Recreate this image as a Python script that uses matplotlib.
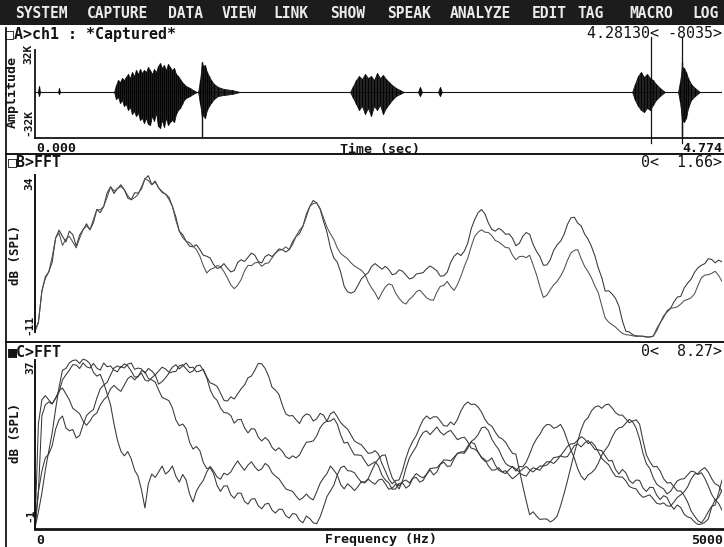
import numpy as np
import matplotlib
matplotlib.use("Agg")
import matplotlib.pyplot as plt
from matplotlib.lines import Line2D
from matplotlib.patches import Rectangle

# ---------------- data ----------------
menu_items = ["SYSTEM", "CAPTURE", "DATA", "VIEW", "LINK", "SHOW",
              "SPEAK", "ANALYZE", "EDIT", "TAG", "MACRO", "LOG"]

duration = 4.774          # seconds in the capture window
cursor_times = [4.2813, 4.496]

# speech bursts: time (s), upper / lower envelope (sample counts)
burst_t = [0.020, 0.028, 0.035, 0.160, 0.167, 0.174,
           0.549, 0.563, 0.577, 0.591, 0.605, 0.618, 0.632, 0.646, 0.660, 0.674,
           0.688, 0.702, 0.716, 0.730, 0.743, 0.757, 0.771, 0.785, 0.799, 0.813,
           0.827, 0.841, 0.855, 0.869, 0.882, 0.896, 0.910, 0.924, 0.938, 0.952,
           0.966, 0.980, 0.994, 1.008, 1.022, 1.035, 1.049, 1.063, 1.077, 1.098, 1.126,
           1.133, 1.147, 1.160, 1.167, 1.181, 1.195, 1.209, 1.223, 1.244, 1.272,
           1.313, 1.369, 1.425,
           2.189, 2.210, 2.231, 2.251, 2.272, 2.293, 2.314, 2.335, 2.356, 2.377,
           2.397, 2.418, 2.439, 2.460, 2.481, 2.509, 2.536, 2.564,
           2.660, 2.675, 2.690, 2.800, 2.814, 2.828,
           4.149, 4.169, 4.190, 4.211, 4.232, 4.253, 4.274, 4.294, 4.315, 4.343, 4.378,
           4.468, 4.482, 4.496, 4.510, 4.524, 4.538, 4.559, 4.586, 4.621]
burst_hi = [0, 4300, 0, 0, 2800, 0,
            0, 4984, 8544, 7120, 9968, 8544, 10680, 12816, 9968, 14240,
            11392, 15664, 12816, 16376, 13528, 15664, 14240, 17800, 15664, 12816,
            16376, 14240, 18512, 20648, 17088, 19224, 15664, 19936, 17800, 15664,
            17088, 12816, 11392, 9256, 7120, 5696, 4272, 3560, 2848, 1424, 0,
            0, 8544, 21360, 18512, 19224, 14240, 11392, 8544, 5696, 3560,
            2136, 1424, 0,
            0, 4272, 8544, 11392, 9256, 12816, 9968, 11392, 8544, 13528,
            9968, 12104, 9256, 7120, 4984, 2848, 1424, 0,
            0, 3560, 0, 0, 3560, 0,
            0, 5696, 11392, 14240, 10680, 12816, 9968, 8544, 5696, 2848, 0,
            0, 7120, 18000, 17088, 14240, 9968, 5696, 2848, 0]
burst_lo = [0, -2800, 0, 0, -1400, 0,
            0, -4984, -3560, -7832, -5696, -9968, -8544, -12816, -10680, -15664,
            -13528, -17088, -14952, -19936, -18512, -22072, -18512, -22784, -23496, -17088,
            -20648, -14952, -24208, -25632, -19936, -24920, -18512, -23496, -21360, -19936,
            -21360, -15664, -12816, -11392, -8544, -5696, -4272, -3560, -2848, -1424, 0,
            0, -8544, -18000, -16376, -18512, -12816, -9968, -7832, -4984, -2848,
            -2136, -1424, 0,
            0, -4272, -8544, -12816, -9968, -15664, -11392, -17088, -9968, -12816,
            -9256, -15664, -11392, -8544, -5696, -2848, -1424, 0,
            0, -2848, 0, 0, -2848, 0,
            0, -5696, -9968, -12816, -14240, -11392, -12816, -9256, -5696, -2848, 0,
            0, -7120, -20000, -21360, -18512, -11392, -5696, -2848, 0]

# isolated clicks
spike_t = [1.160, 4.496]
spike_hi = [21360, 21360]
spike_lo = [-32768, -31300]

# FFT frequency grid (Hz)
freq = np.arange(0, 5001, 25)

# window B: two spectra (dB SPL)
fft_b1 = [-10.8, -8.0, 0.7, 4.8, 6.2, 9.0, 15.9, 18.2, 16.4, 14.8,
          17.9, 16.9, 13.6, 16.8, 18.3, 20.0, 18.3, 20.3, 24.1, 23.2,
          25.0, 28.9, 30.6, 28.7, 30.1, 31.2, 29.8, 27.4, 26.9, 28.9,
          28.8, 30.0, 32.9, 33.8, 31.2, 32.0, 30.3, 29.0, 28.5, 27.6,
          25.0, 22.0, 17.9, 16.9, 15.0, 13.6, 13.4, 14.0, 12.6, 11.0,
          10.7, 10.2, 8.3, 7.2, 7.5, 8.6, 7.3, 6.2, 6.6, 8.9,
          9.7, 9.2, 10.4, 11.6, 11.0, 9.2, 8.8, 10.6, 11.2, 10.6,
          11.6, 12.8, 12.6, 11.9, 12.6, 14.9, 16.4, 17.2, 19.3, 22.8,
          25.0, 26.7, 26.0, 24.2, 20.7, 17.6, 13.1, 10.2, 9.0, 6.1,
          2.1, 0.5, 0.1, 0.6, 2.3, 4.2, 5.2, 6.0, 7.8, 8.6,
          7.8, 7.0, 7.8, 6.9, 5.4, 5.7, 6.8, 6.4, 5.3, 4.2,
          4.5, 5.6, 5.8, 6.0, 7.1, 7.9, 7.3, 6.5, 5.0, 5.1,
          6.1, 8.9, 10.7, 11.6, 10.9, 12.2, 14.5, 18.6, 21.2, 23.2,
          24.1, 22.8, 20.2, 18.4, 17.9, 18.7, 18.1, 17.0, 17.1, 15.9,
          13.7, 14.4, 16.4, 17.5, 17.0, 14.1, 12.1, 10.6, 8.1, 8.2,
          9.7, 12.4, 14.0, 15.0, 16.9, 19.8, 21.7, 21.9, 20.2, 19.4,
          17.1, 15.6, 13.5, 10.8, 7.3, 4.6, 0.7, 0.8, -0.1, -1.4,
          -3.6, -7.8, -10.8, -11.0, -11.8, -12.1, -12.2, -12.2, -12.4, -12.5,
          -12.2, -10.6, -8.4, -6.4, -5.3, -4.3, -2.4, -1.0, -0.8, 1.6,
          3.0, 4.1, 6.1, 7.4, 8.1, 8.6, 10.0, 9.8, 8.8, 9.6,
          9.1]
fft_b2 = [-10.8, -8.4, 0.7, 4.3, 6.2, 10.5, 15.9, 17.4, 13.8, 15.6,
          16.4, 14.8, 13.1, 15.9, 18.3, 19.4, 18.3, 21.2, 24.1, 24.0,
          25.0, 27.6, 30.6, 29.4, 30.1, 30.7, 29.8, 28.1, 26.9, 27.5,
          28.4, 30.6, 32.9, 32.4, 31.2, 32.3, 30.3, 29.3, 28.5, 27.0,
          25.0, 21.0, 17.9, 16.0, 15.0, 14.6, 13.6, 12.6, 10.7, 8.0,
          5.9, 6.9, 7.3, 8.0, 7.8, 6.3, 4.5, 2.5, 1.4, 2.4,
          4.0, 6.5, 8.1, 8.0, 8.8, 9.0, 7.8, 8.6, 8.8, 10.2,
          11.6, 12.4, 12.6, 13.4, 12.6, 14.1, 16.4, 18.2, 19.3, 22.0,
          25.0, 25.8, 26.0, 24.4, 21.7, 19.0, 17.1, 15.5, 13.1, 11.5,
          10.7, 10.0, 8.8, 7.9, 7.3, 6.7, 5.6, 3.3, 1.6, 0.2,
          -1.7, 0.3, 1.9, 2.8, 2.4, 0.1, -1.4, -2.5, -3.0, -1.6,
          -0.8, 0.5, 1.0, -0.1, -1.2, -1.8, -1.9, 0.4, 2.1, 2.3,
          3.5, 2.0, 0.9, 2.6, 5.0, 7.8, 10.2, 13.5, 16.4, 17.6,
          18.3, 17.6, 17.5, 16.6, 15.2, 14.8, 14.0, 13.2, 13.1, 11.0,
          9.7, 10.6, 10.7, 10.3, 11.0, 8.2, 5.4, 1.9, -1.1, -0.5,
          1.1, 2.5, 3.5, 5.0, 6.9, 9.5, 11.6, 12.4, 12.6, 10.0,
          7.8, 6.3, 4.5, 2.2, 0.2, -3.5, -7.0, -8.2, -8.9, -9.6,
          -10.6, -11.4, -11.8, -11.9, -12.1, -12.3, -12.2, -12.3, -12.5, -12.4,
          -12.2, -10.0, -8.4, -6.9, -4.9, -4.2, -4.1, -3.8, -3.0, -2.0,
          -1.7, -1.2, -0.1, 2.3, 4.5, 5.3, 5.4, 5.8, 6.4, 5.2,
          3.5]

# window C: four spectra (dB SPL)
fft_c1 = [-2.6, 1.2, 5.6, 11.0, 15.5, 19.8, 25.4, 30.6, 34.6, 35.0,
          36.3, 36.9, 37.0, 36.2, 37.2, 36.9, 36.1, 34.1, 33.2, 33.6,
          31.6, 29.0, 26.4, 21.9, 18.1, 15.5, 14.4, 15.4, 13.7, 11.0,
          9.6, 6.4, 2.1, 7.8, 10.1, 9.3, 10.6, 12.0, 10.1, 10.8,
          12.0, 9.6, 8.2, 10.0, 8.7, 5.4, 3.5, 6.1, 7.5, 8.6,
          10.6, 11.9, 10.8, 9.4, 8.9, 10.3, 9.9, 10.6, 12.0, 13.2,
          12.0, 11.0, 12.2, 13.0, 11.8, 10.9, 11.3, 12.6, 12.0, 10.4,
          9.6, 9.0, 7.8, 6.6, 6.3, 6.0, 4.9, 4.0, 4.5, 5.4,
          4.5, 4.0, 5.9, 7.9, 9.2, 10.2, 12.0, 11.0, 9.9, 7.6,
          6.6, 7.8, 7.1, 6.2, 7.1, 8.3, 8.2, 9.0, 10.8, 12.6,
          13.7, 14.5, 14.6, 11.6, 9.2, 8.0, 7.3, 8.3, 8.7, 8.0,
          9.2, 10.2, 9.6, 9.2, 10.1, 11.4, 11.5, 11.6, 12.5, 13.4,
          13.4, 13.2, 14.1, 15.0, 15.1, 15.0, 16.2, 17.8, 18.4, 19.4,
          21.0, 21.2, 20.3, 18.3, 17.0, 15.9, 14.1, 12.6, 12.0, 11.8,
          10.8, 11.9, 11.8, 12.9, 14.8, 16.9, 18.4, 19.5, 21.0, 21.8,
          21.7, 20.9, 21.2, 21.8, 20.3, 18.0, 15.8, 13.9, 11.3, 9.6,
          8.7, 9.9, 10.4, 11.2, 12.7, 14.6, 15.8, 16.9, 18.8, 20.3,
          21.0, 21.2, 22.1, 23.0, 22.4, 20.9, 18.4, 15.0, 12.5, 11.4,
          9.2, 7.7, 7.1, 6.6, 5.4, 6.0, 7.3, 8.5, 8.9, 9.0,
          9.9, 10.8, 10.6, 10.0, 10.4, 9.1, 7.3, 5.3, 4.0, 3.2,
          1.6]
fft_c2 = [-2.6, 6.0, 10.8, 13.9, 14.8, 16.8, 20.7, 22.9, 23.8, 21.0,
          20.3, 20.6, 18.6, 19.2, 21.7, 23.9, 24.7, 25.3, 28.0, 30.2,
          31.1, 31.7, 33.5, 35.1, 35.6, 35.2, 36.1, 35.6, 34.4, 33.0,
          33.0, 34.5, 34.2, 32.6, 32.3, 31.8, 29.9, 28.2, 27.8, 27.4,
          25.7, 22.9, 21.5, 21.9, 20.8, 17.6, 16.0, 16.6, 15.6, 12.8,
          11.4, 11.6, 10.2, 7.4, 6.0, 7.3, 7.3, 5.2, 4.4, 5.6,
          5.6, 3.6, 3.0, 4.2, 4.3, 2.6, 1.9, 3.0, 3.2, 1.6,
          0.9, 1.8, 1.8, 0.3, -0.3, 0.8, 0.6, -0.8, -1.4, 0.2,
          -0.4, -1.4, -1.6, 0.0, 2.3, 4.8, 6.1, 7.5, 9.9, 11.6,
          12.0, 10.9, 10.8, 10.4, 9.2, 8.2, 8.0, 8.9, 8.2, 7.7,
          8.7, 8.9, 7.8, 6.5, 6.8, 7.7, 6.6, 8.5, 11.5, 13.9,
          15.3, 16.6, 18.6, 19.9, 20.3, 19.4, 20.3, 21.2, 20.0, 19.3,
          20.0, 20.4, 19.3, 18.2, 18.6, 18.8, 17.7, 16.2, 16.0, 15.3,
          13.9, 13.1, 13.2, 13.9, 12.2, 11.0, 10.6, 10.9, 9.9, 9.0,
          9.6, 10.4, 9.9, 9.6, 10.8, 11.6, 11.3, 11.0, 12.2, 13.0,
          13.0, 12.6, 13.4, 14.4, 14.1, 14.2, 15.5, 16.8, 17.2, 16.5,
          17.4, 18.0, 17.0, 15.9, 15.8, 15.6, 14.4, 13.2, 13.3, 11.2,
          10.1, 11.2, 10.4, 8.6, 7.9, 8.7, 8.6, 6.8, 6.0, 7.0,
          6.9, 5.1, 4.1, 5.0, 4.6, 2.9, 1.8, 2.8, 2.2, 0.6,
          0.0, -0.3, -1.2, -1.8, -1.7, -1.3, -0.5, 2.3, 4.0, 4.6,
          6.3]
fft_c3 = [-2.6, 6.0, 23.8, 26.4, 27.1, 26.6, 28.0, 29.8, 30.4, 29.0,
          27.6, 25.6, 25.0, 24.3, 22.6, 21.6, 22.6, 23.9, 24.5, 26.4,
          27.6, 28.4, 30.2, 31.0, 30.2, 29.6, 31.1, 32.6, 33.2, 32.3,
          33.2, 33.9, 32.3, 32.0, 32.8, 33.5, 31.3, 31.9, 32.8, 33.9,
          34.2, 34.3, 35.6, 35.9, 34.9, 34.0, 34.4, 35.6, 35.8, 34.6,
          32.8, 30.0, 28.3, 27.5, 25.7, 24.6, 24.5, 23.9, 22.1, 22.9,
          23.0, 21.0, 19.8, 20.8, 20.7, 18.8, 17.9, 18.7, 18.0, 16.4,
          15.6, 16.3, 15.5, 14.2, 13.7, 14.4, 13.9, 14.6, 16.2, 17.6,
          17.7, 17.9, 19.1, 21.0, 22.1, 22.6, 24.3, 24.8, 23.6, 22.2,
          21.4, 20.7, 19.3, 17.9, 17.4, 17.0, 16.0, 15.0, 15.1, 15.6,
          14.8, 12.6, 10.8, 8.9, 7.8, 8.6, 8.7, 11.0, 13.9, 16.2,
          17.9, 19.2, 21.2, 22.9, 23.8, 23.1, 23.6, 23.6, 22.6, 21.5,
          21.4, 22.4, 21.7, 23.0, 25.0, 26.4, 27.1, 26.5, 26.6, 25.9,
          24.7, 23.0, 21.9, 21.4, 20.0, 18.8, 18.4, 17.6, 16.2, 15.0,
          14.8, 11.0, 7.3, 3.8, 0.5, 1.2, 0.2, -0.6, -0.5, -0.5,
          -1.2, -0.7, 0.2, 2.6, 5.4, 8.5, 11.8, 15.0, 17.9, 20.6,
          22.6, 23.4, 25.0, 25.9, 26.2, 25.6, 26.4, 26.6, 25.7, 24.6,
          24.0, 24.0, 23.1, 22.2, 22.6, 22.9, 21.9, 18.0, 14.6, 13.0,
          11.8, 11.9, 10.8, 9.0, 8.0, 8.1, 7.1, 6.1, 6.1, 5.0,
          3.5, 1.4, 0.2, -0.9, -1.4, -0.3, 1.2, 2.5, 2.8, 5.6,
          8.7]
fft_c4 = [-2.6, 22.0, 27.6, 28.6, 27.6, 26.7, 28.0, 29.4, 32.3, 33.5,
          34.6, 35.9, 35.8, 35.0, 36.3, 35.4, 35.1, 36.2, 35.1, 34.6,
          36.3, 35.4, 35.6, 34.6, 34.2, 35.5, 35.1, 36.0, 36.3, 34.8,
          35.1, 34.9, 33.9, 35.0, 34.4, 33.5, 34.4, 35.3, 34.9, 34.1,
          35.3, 35.9, 34.9, 35.6, 36.3, 35.2, 35.3, 34.2, 34.4, 34.8,
          33.0, 31.6, 31.3, 30.8, 29.2, 27.5, 27.3, 28.3, 27.8, 29.0,
          30.2, 31.1, 32.8, 33.2, 34.6, 36.2, 36.1, 35.0, 33.2, 30.6,
          29.9, 28.9, 26.4, 24.3, 23.8, 23.9, 22.9, 22.0, 23.6, 24.3,
          24.0, 22.6, 23.1, 24.4, 24.0, 22.5, 22.6, 23.2, 21.9, 19.3,
          17.4, 17.6, 16.0, 14.6, 14.6, 14.5, 13.2, 12.0, 12.5, 13.0,
          12.0, 9.8, 8.7, 8.0, 6.5, 6.6, 7.9, 8.0, 6.8, 7.4,
          9.1, 9.3, 8.2, 8.6, 10.0, 11.1, 9.9, 10.6, 12.4, 12.9,
          11.9, 12.0, 13.7, 15.0, 15.3, 15.4, 16.7, 17.6, 17.2, 15.2,
          14.1, 13.5, 12.0, 11.0, 11.1, 11.6, 10.6, 10.2, 11.1, 11.9,
          11.3, 10.6, 11.3, 11.9, 11.1, 10.6, 11.3, 12.0, 12.0, 12.2,
          13.0, 14.0, 14.1, 14.4, 15.5, 16.6, 17.2, 17.3, 18.1, 18.9,
          18.4, 17.3, 17.7, 16.8, 15.3, 13.8, 13.0, 12.3, 10.8, 9.6,
          9.4, 9.4, 8.5, 7.2, 6.8, 6.6, 5.4, 4.6, 4.9, 5.2,
          4.2, 3.2, 3.0, 3.3, 2.6, 2.5, 3.5, 4.6, 5.2, 5.9,
          7.1, 8.9, 10.1, 10.2, 11.1, 11.6, 10.6, 9.0, 7.8, 7.4,
          5.9]

# ---------------- figure ----------------
W, H = 724, 547
fig = plt.figure(figsize=(W / 100, H / 100), dpi=100)
fig.patch.set_facecolor("white")

INK = "#141414"
TRACE = "#363636"
MONO = ["DejaVu Sans Mono"]


def fx(x):
    return x / W


def fy(y):
    return 1 - y / H


def axes_px(x0, y0, x1, y1):
    ax = fig.add_axes([fx(x0), fy(y1), fx(x1) - fx(x0), fy(y0) - fy(y1)])
    ax.set_axis_off()
    return ax


def hline(y, x0, x1, lw=1.2, color=INK):
    fig.add_artist(Line2D([fx(x0), fx(x1)], [fy(y), fy(y)], lw=lw, color=color,
                          transform=fig.transFigure))


def vline(x, y0, y1, lw=1.2, color=INK):
    fig.add_artist(Line2D([fx(x), fx(x)], [fy(y0), fy(y1)], lw=lw, color=color,
                          transform=fig.transFigure))


def text(x, y, s, size=10.5, weight="bold", color=INK, ha="left", va="center",
         rotation=0, family=MONO):
    fig.text(fx(x), fy(y), s, fontsize=size, fontweight=weight, color=color,
             ha=ha, va=va, rotation=rotation, family=family)


# menu bar
fig.add_artist(Rectangle((0, fy(25)), 1, 25 / H, transform=fig.transFigure,
                         facecolor="#1c1c1c", edgecolor="none"))
menu_x = [15, 87, 168, 222, 273, 330, 387, 450, 532, 577, 629, 692]
for label, x in zip(menu_items, menu_x):
    text(x, 13, label, size=10.5, color="#ececec")

# frame lines
vline(6, 28, 547, lw=1.3)
hline(154, 6, 724, lw=1.4)
hline(342, 6, 724, lw=1.4)

# ---------- window A: waveform ----------
axA = axes_px(35, 46, 722, 138)
axA.set_xlim(0, duration)
axA.set_ylim(-32768, 32768)
axA.plot([0, duration], [0, 0], color=INK, lw=0.8)
axA.fill_between(burst_t, burst_lo, burst_hi, color="#262626", lw=0.5,
                 edgecolor="#101010")
axA.vlines(burst_t, burst_lo, burst_hi, color="#050505", lw=0.9)
axA.vlines(spike_t, spike_lo, spike_hi, color=INK, lw=1.0)
for tc in cursor_times:
    axA.plot([tc, tc], [39200, -36300], color=INK, lw=0.9, clip_on=False)
vline(35, 50, 138, lw=1.3)
hline(138, 35, 724, lw=1.3)

text(5, 34, "\u25a1A>ch1 : *Captured*", size=10.8)
text(722, 34, "4.28130< -8035>", size=10.8, weight="normal", ha="right")
text(12, 92, "Amplitude", size=9.5, rotation=90, ha="center")
text(28, 54, "32K", size=8, rotation=90, ha="center")
text(28, 122, "-32K", size=8, rotation=90, ha="center")
text(36, 148, "0.000", size=9.5)
text(380, 149, "Time (sec)", size=9.5, ha="center")
text(722, 148, "4.774", size=9.5, ha="right")

# ---------- window B: two spectra ----------
axB = axes_px(35, 173, 722, 341)
axB.set_xlim(0, 5000)
axB.set_ylim(-13.6, 34.57)
axB.plot(freq, fft_b1, color=TRACE, lw=0.75)
axB.plot(freq, fft_b2, color="#505050", lw=0.75)
vline(35, 175, 332, lw=1.4)

text(8, 162, "\u25a1B>FFT", size=10.8)
text(722, 162, "0<  1.66>", size=10.8, weight="normal", ha="right")
text(16, 255, "dB (SPL)", size=9, rotation=90, ha="center")
text(29, 183, "34", size=8, rotation=90, ha="center")
text(29, 325, "-11", size=8, rotation=90, ha="center")

# ---------- window C: four spectra ----------
axC = axes_px(35, 358, 722, 529)
axC.set_xlim(0, 5000)
axC.set_ylim(-2.86, 37.47)
for series in (fft_c1, fft_c2, fft_c3, fft_c4):
    axC.plot(freq, series, color=TRACE, lw=0.75)
vline(35, 360, 529, lw=1.4)
hline(529, 35, 724, lw=2.0)

text(8, 352, "\u25a0C>FFT", size=10.8)
text(722, 352, "0<  8.27>", size=10.8, weight="normal", ha="right")
text(16, 433, "dB (SPL)", size=9, rotation=90, ha="center")
text(30, 367, "37", size=8, rotation=90, ha="center")
text(30, 515, "-1", size=8, rotation=90, ha="center")
text(36, 540, "0", size=9.5)
text(381, 540, "Frequency (Hz)", size=9.5, ha="center")
text(723, 540, "5000", size=9.5, ha="right")

fig.savefig("out.png", dpi=100)
